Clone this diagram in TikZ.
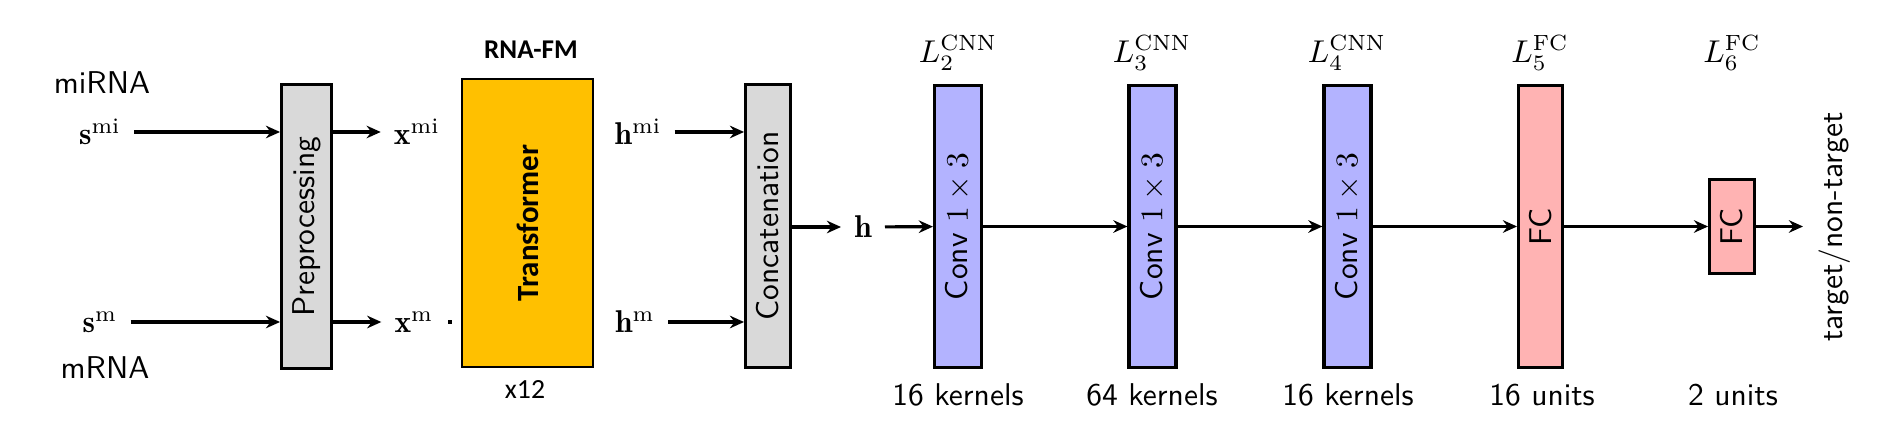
\documentclass[tikz,border=0pt]{standalone}
\usepackage{fontspec}
\newfontfamily\fmfont{Carlito}
\usetikzlibrary{arrows.meta}
\definecolor{boxgray}{HTML}{D9D9D9}
\definecolor{fmyellow}{HTML}{FFC000}
\definecolor{convblue}{HTML}{B3B3FF}
\definecolor{fcred}{HTML}{FFB3B3}
\begin{document}
\begin{tikzpicture}[x=0.3175pt,y=-0.3175pt,
 layer/.style={draw,line width=1pt,inner sep=0pt,font=\sffamily,minimum width=13.9pt,minimum height=89.5pt},
 lbl/.style={inner sep=4pt},
 txt/.style={font=\sffamily},
 ltag/.style={inner sep=0.5pt},
 flow/.style={-{Stealth[length=4.5pt,width=4pt,inset=1.5pt]},line width=1pt}]
 \useasboundingbox (0,0) rectangle (1893,431);
 % inputs
 \node[txt] (mirna) at (102,83) {miRNA};
 \node[lbl] (smi) at (100,132) {$\mathbf{s}^{\mathrm{mi}}$};
 \node[lbl] (sm) at (100,322) {$\mathbf{s}^{\mathrm{m}}$};
 \node[txt] (mrna) at (105,368) {mRNA};
 % preprocessing
 \node[layer,fill=boxgray,minimum width=15.8pt,minimum height=90pt] (pre) at (306.5,226.5) {\rotatebox{90}{Preprocessing}};
 \draw[flow] (smi) -- (smi -| pre.west);
 \draw[flow] (sm) -- (sm -| pre.west);
 \node[lbl] (xmi) at (417,132) {$\mathbf{x}^{\mathrm{mi}}$};
 \node[lbl] (xm) at (414,322) {$\mathbf{x}^{\mathrm{m}}$};
 \node[fill,inner sep=0pt,minimum size=1.3pt] (dot) at (450,322) {};
 \draw[flow] (pre.east |- xmi) -- (xmi);
 \draw[flow] (pre.east |- xm) -- (xm);
 % RNA-FM
 \node[draw,line width=0.7pt,fill=fmyellow,inner sep=0pt,minimum width=41.5pt,minimum height=91.5pt] (tf) at (527.5,223) {\rotatebox{90}{\fmfont\bfseries\fontsize{9.8}{11}\selectfont Transformer}};
 \node[font=\fmfont\bfseries\fontsize{8.6}{10}\selectfont] (rnafm) at (531,50) {RNA-FM};
 \node[font=\fmfont\fontsize{8.8}{10}\selectfont] (rep) at (525,390) {x12};
 % concatenation
 \node[lbl] (hmi) at (638,132) {$\mathbf{h}^{\mathrm{mi}}$};
 \node[lbl] (hm) at (635,322) {$\mathbf{h}^{\mathrm{m}}$};
 \node[layer,fill=boxgray,minimum width=14.2pt,minimum height=89.8pt] (cat) at (768,226) {\rotatebox{90}{Concatenation}};
 \draw[flow] (hmi) -- (hmi -| cat.west);
 \draw[flow] (hm) -- (hm -| cat.west);
 \node[lbl] (h) at (863,227) {$\mathbf{h}$};
 \draw[flow] (cat.east |- h) -- (h);
 % CNN layers
 \node[layer,fill=convblue,minimum width=14.9pt] (conv2) at (958,226.5) {\rotatebox{90}{Conv $1\times3$}};
 \node[layer,fill=convblue,minimum width=14.9pt] (conv3) at (1152.5,226.5) {\rotatebox{90}{Conv $1\times3$}};
 \node[layer,fill=convblue,minimum width=14.9pt] (conv4) at (1347.5,226.5) {\rotatebox{90}{Conv $1\times3$}};
 \node[ltag] (l2) at (958,53) {$L_2^{\mathrm{CNN}}$};
 \node[ltag] (l3) at (1152,53) {$L_3^{\mathrm{CNN}}$};
 \node[ltag] (l4) at (1347,53) {$L_4^{\mathrm{CNN}}$};
 \node[txt] (k2) at (958,395) {16 kernels};
 \node[txt] (k3) at (1152,395) {64 kernels};
 \node[txt] (k4) at (1348,395) {16 kernels};
 % FC layers
 \node[layer,fill=fcred] (fc5) at (1540.5,226.5) {\rotatebox{90}{FC}};
 \node[layer,fill=fcred,minimum width=14.2pt,minimum height=29.8pt] (fc6) at (1732,226.5) {\rotatebox{90}{FC}};
 \node[ltag] (l5) at (1540,53) {$L_5^{\mathrm{FC}}$};
 \node[ltag] (l6) at (1732,53) {$L_6^{\mathrm{FC}}$};
 \node[txt] (u5) at (1542,395) {16 units};
 \node[txt] (u6) at (1733,395) {2 units};
 \coordinate (out) at (1803,226.5);
 \node[txt] (target) at (1835,227) {\rotatebox{90}{target/non-target}};
 % connections
 \draw[flow] (h) -- (conv2);
 \draw[flow] (conv2) -- (conv3);
 \draw[flow] (conv3) -- (conv4);
 \draw[flow] (conv4) -- (fc5);
 \draw[flow] (fc5) -- (fc6);
 \draw[flow] (fc6) -- (out);
\end{tikzpicture}
\end{document}
